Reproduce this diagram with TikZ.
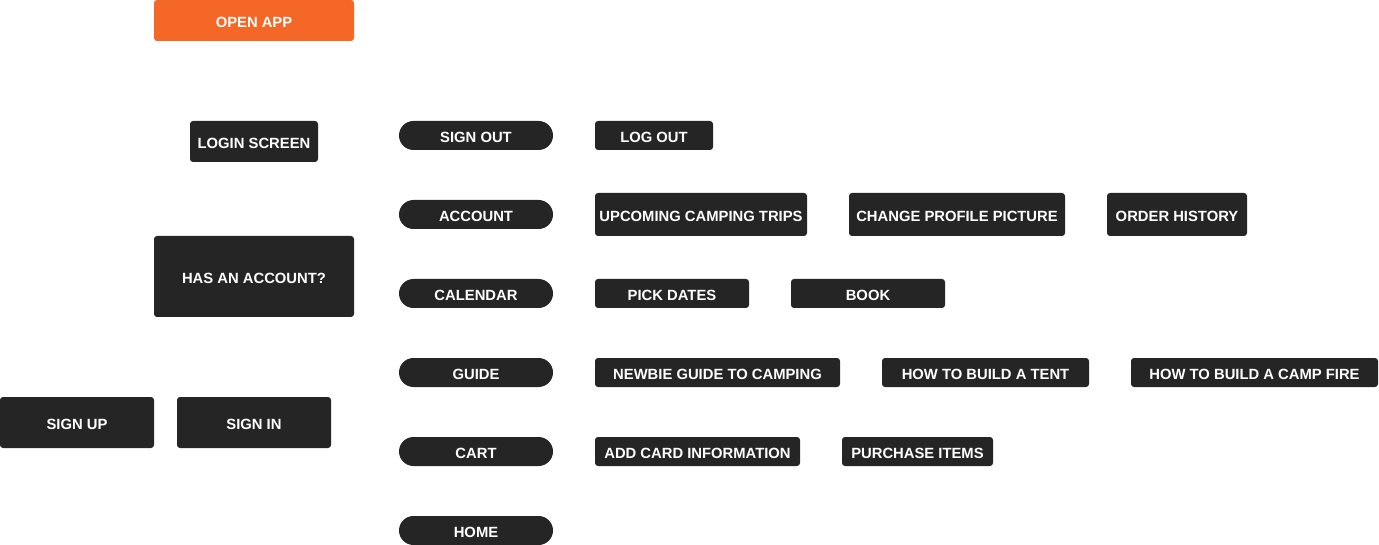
\documentclass[tikz,border=0pt]{standalone}
\usepackage{fontspec}
\setmainfont{Liberation Sans}
\definecolor{boxdark}{HTML}{252525}
\definecolor{boxorange}{HTML}{F46726}
\begin{document}
\begin{tikzpicture}[x=1pt,y=-1pt,
  box/.style={fill=boxdark, rounded corners=3pt, inner sep=0pt, text=white,
    font=\fontsize{14.8}{16}\selectfont\bfseries, anchor=center,
    text height=13.4pt, text depth=0pt},
  pill/.style={box, rounded corners=14.5pt, minimum width=154pt, minimum height=29pt},
  orange/.style={box, fill=boxorange}]
\useasboundingbox (0,0) rectangle (1379,545);
\node[orange, minimum width=200pt, minimum height=41pt] (open) at (254,20.5) {OPEN APP};
\node[box, minimum width=128pt, minimum height=41pt] (login) at (254,141.5) {LOGIN SCREEN};
\node[box, minimum width=200pt, minimum height=81pt] (has) at (254,276.5) {HAS AN ACCOUNT?};
\node[box, minimum width=154pt, minimum height=51pt] (signup) at (77,422.5) {SIGN UP};
\node[box, minimum width=154pt, minimum height=51pt] (signin) at (254,422.5) {SIGN IN};
\node[pill] (signout) at (476,135.5) {SIGN OUT};
\node[pill] (account) at (476,214.5) {ACCOUNT};
\node[pill] (calendar) at (476,293.5) {CALENDAR};
\node[pill] (guide) at (476,372.5) {GUIDE};
\node[pill] (cart) at (476,451.5) {CART};
\node[pill] (home) at (476,530.5) {HOME};
\node[box, minimum width=118pt, minimum height=29pt] (logout) at (654,135.5) {LOG OUT};
\node[box, minimum width=212pt, minimum height=43pt] (upcoming) at (701,214.5) {UPCOMING CAMPING TRIPS};
\node[box, minimum width=216pt, minimum height=43pt] (change) at (957,214.5) {CHANGE PROFILE PICTURE};
\node[box, minimum width=140pt, minimum height=43pt] (order) at (1177,214.5) {ORDER HISTORY};
\node[box, minimum width=154pt, minimum height=29pt] (pick) at (672,293.5) {PICK DATES};
\node[box, minimum width=154pt, minimum height=29pt] (book) at (868,293.5) {BOOK};
\node[box, minimum width=245pt, minimum height=29pt] (newbie) at (717.5,372.5) {NEWBIE GUIDE TO CAMPING};
\node[box, minimum width=207pt, minimum height=29pt] (tent) at (985.5,372.5) {HOW TO BUILD A TENT};
\node[box, minimum width=247pt, minimum height=29pt] (fire) at (1254.5,372.5) {HOW TO BUILD A CAMP FIRE};
\node[box, minimum width=205pt, minimum height=29pt] (addcard) at (697.5,451.5) {ADD CARD INFORMATION};
\node[box, minimum width=151pt, minimum height=29pt] (purchase) at (917.5,451.5) {PURCHASE ITEMS};
\end{tikzpicture}
\end{document}
